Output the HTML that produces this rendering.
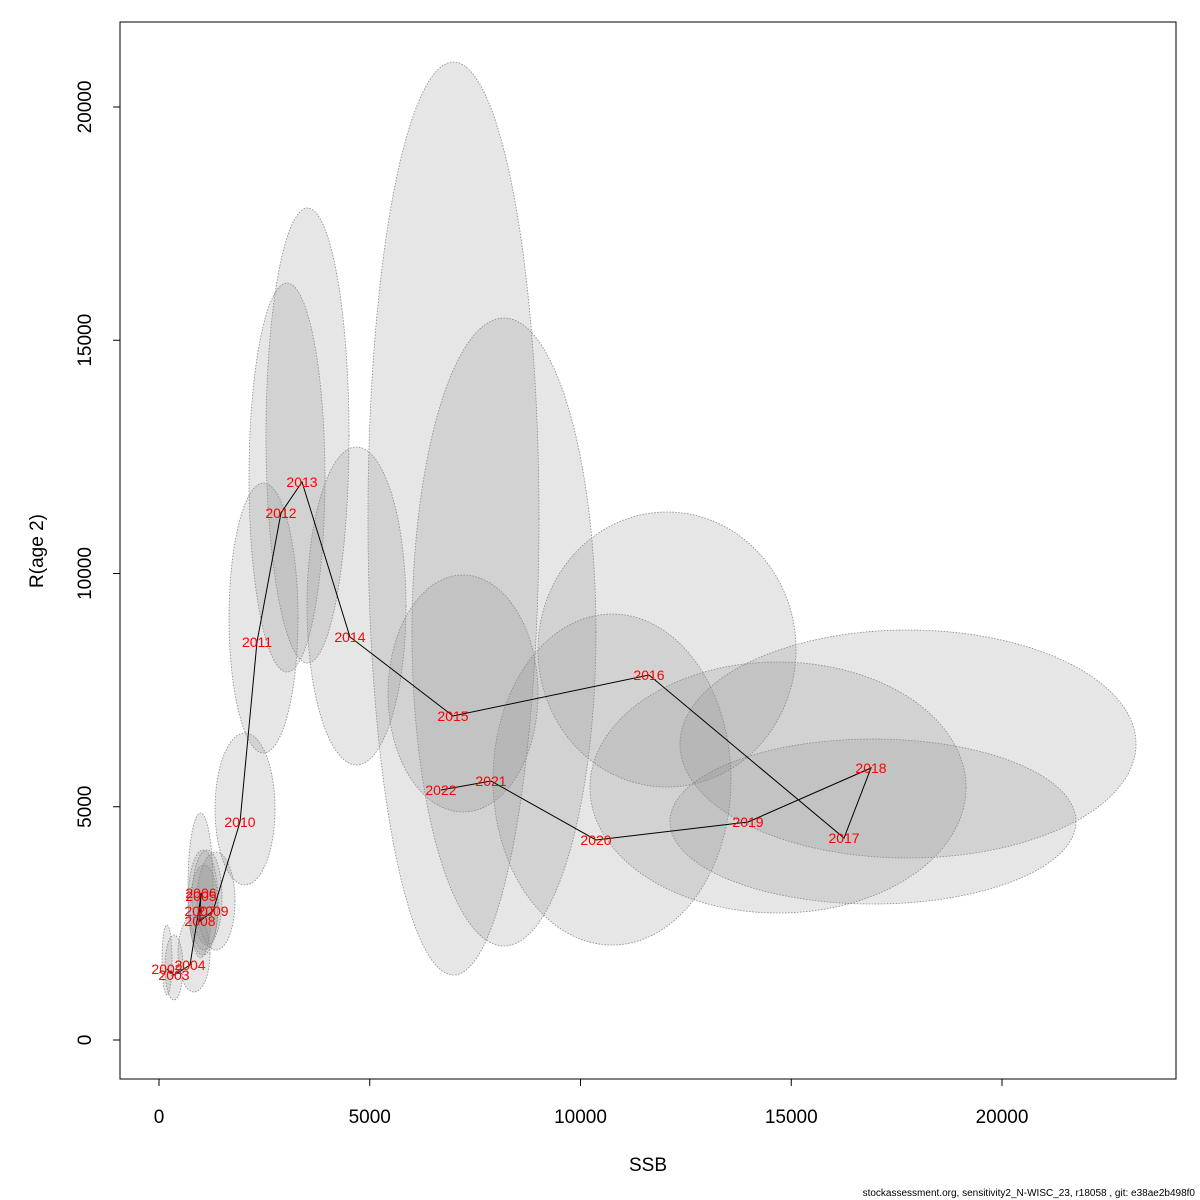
<!DOCTYPE html>
<html><head><meta charset="utf-8"><style>
body{margin:0;background:#fff;}
svg{display:block;font-family:"Liberation Sans",sans-serif;}
</style></head><body>
<svg id="chart" width="1200" height="1200" viewBox="0 0 1200 1200">
<rect x="120" y="22" width="1056" height="1057" fill="none" stroke="#000" stroke-width="1"/>
<g id="ell"></g>
<g id="axes"></g>
<g id="marks"></g>
<text x="648" y="1171" font-size="19" text-anchor="middle">SSB</text>
<text transform="translate(43,551) rotate(-90)" font-size="19" text-anchor="middle">R(age 2)</text>
<text x="1195" y="1196" font-size="10" text-anchor="end">stockassessment.org, sensitivity2_N-WISC_23, r18058 , git: e38ae2b498f0</text>
</svg>
<script>
const years=[2002,2003,2004,2005,2006,2007,2008,2009,2010,2011,2012,2013,2014,2015,2016,2017,2018,2019,2020,2021,2022];
const ssb=[190,356,736,996,996,973,973,1281,1922,2325,2894,3393,4531,6975,11625,16252,16892,13974,10368,7877,6690];
const rec=[1520,1390,1608,3086,3150,2765,2551,2765,4673,8532,11297,11961,8639,6946,7824,4330,5831,4673,4288,5552,5359];
const ssbLo=[71,142,451,688,688,783,735,901,1329,1661,2135,2538,3511,5433,8992,10225,12360,12122,7924,6001,4958];
const ssbHi=[308,569,1210,1281,1400,1495,1400,1803,2752,3298,3938,4508,5860,8992,15113,19146,23179,21755,13570,10367,9015];
const recLo=[965,857,1029,1758,1822,2036,1929,1929,3323,6152,7889,8081,5895,4887,5423,2722,3901,2915,2036,2015,1393];
const recHi=[2465,2251,2680,4866,4073,4073,3751,4030,6581,11940,16227,17835,12712,9968,11318,8103,8789,6452,9132,15477,20965];
const xTicks=[0,5000,10000,15000,20000];
const yTicks=[0,5000,10000,15000,20000];
const NS='http://www.w3.org/2000/svg';
const X=v=>159+v*0.04215;
const Y=v=>1040-v*0.04665;
function mk(tag,attrs,parent){const e=document.createElementNS(NS,tag);for(const k in attrs)e.setAttribute(k,attrs[k]);parent.appendChild(e);return e;}
const ell=document.getElementById('ell'),axes=document.getElementById('axes'),marks=document.getElementById('marks');
years.forEach((yr,i)=>{
  const x0=X(ssbLo[i]),x1=X(ssbHi[i]),y0=Y(recHi[i]),y1=Y(recLo[i]);
  const e=mk('ellipse',{cx:(x0+x1)/2,cy:(y0+y1)/2,rx:(x1-x0)/2,ry:(y1-y0)/2,fill:'rgba(140,140,140,0.22)',stroke:'#888','stroke-width':0.8,'stroke-dasharray':'1.5,1.5'},ell);
  
  
});
// axes
const xa=mk('line',{x1:X(0),x2:X(20000),y1:1079,y2:1079,stroke:'#000'},axes);


xTicks.forEach(t=>{
  const l=mk('line',{x1:X(t),x2:X(t),y1:1079,y2:1086,stroke:'#000'},axes);
  
  
  const tx=mk('text',{x:X(t),y:1123,'font-size':19,'text-anchor':'middle'},axes);tx.textContent=t;
  
  
});
const ya=mk('line',{x1:120,x2:120,y1:Y(0),y2:Y(20000),stroke:'#000'},axes);


yTicks.forEach(t=>{
  const l=mk('line',{x1:113,x2:120,y1:Y(t),y2:Y(t),stroke:'#000'},axes);
  
  
  const tx=mk('text',{transform:`translate(91,${Y(t)}) rotate(-90)`,'font-size':19,'text-anchor':'middle'},axes);tx.textContent=t;
  
  
});
const pts=years.map((y,i)=>X(ssb[i])+','+Y(rec[i])).join(' ');
const pl=mk('polyline',{points:pts,fill:'none',stroke:'#000','stroke-width':1},marks);


years.forEach((yr,i)=>{
  const t=mk('text',{x:X(ssb[i]),y:Y(rec[i])+5,'font-size':14,fill:'#ff0000','text-anchor':'middle'},marks);
  t.textContent=yr;
  
  
});
</script>
</body></html>
